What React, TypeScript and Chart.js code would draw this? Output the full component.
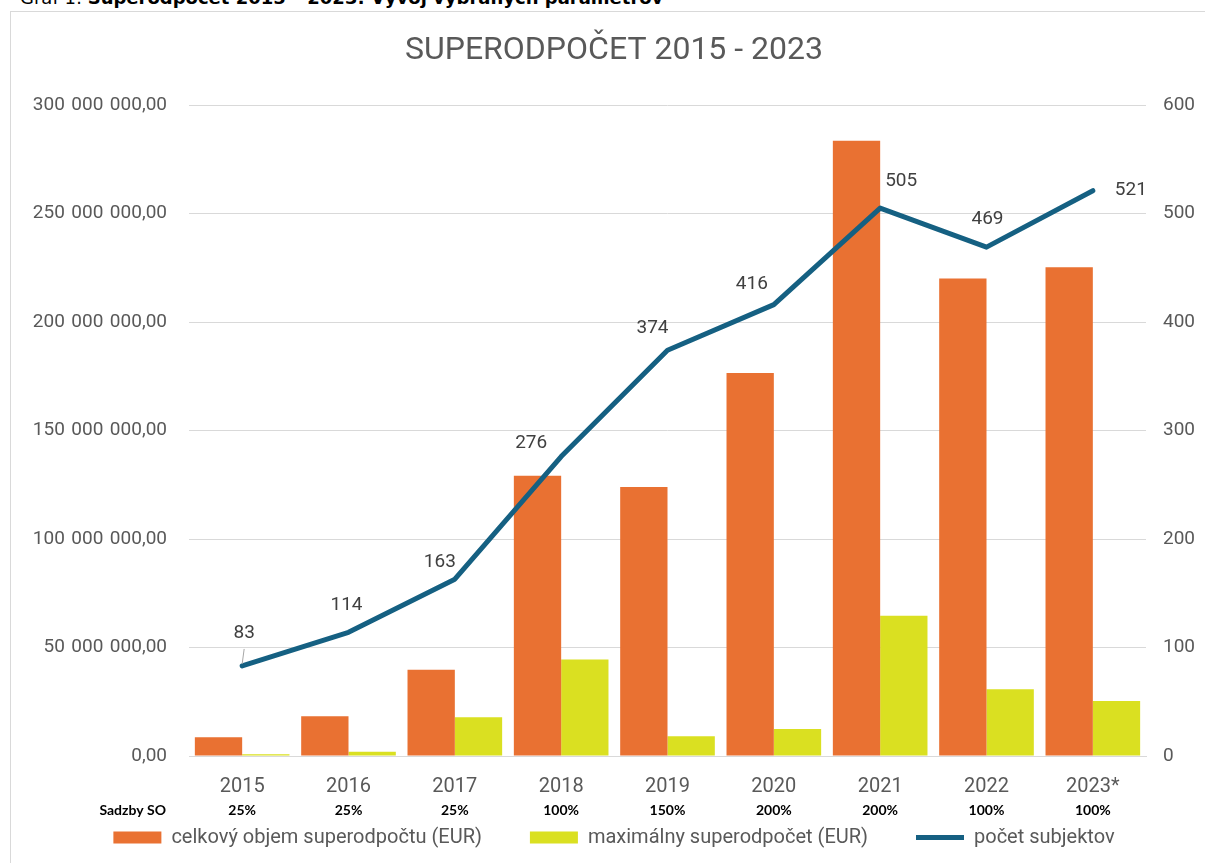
import React, { useEffect, useRef } from 'react';
import { Chart, registerables } from 'chart.js';

Chart.register(...registerables);

// ---- data ----
const years = ['2015', '2016', '2017', '2018', '2019', '2020', '2021', '2022', '2023*'];
const totalVolume = [8.6e6, 18.3e6, 39.7e6, 129.2e6, 124.0e6, 176.5e6, 283.5e6, 220.0e6, 225.2e6];
const maxDeduction = [0.8e6, 2.0e6, 17.8e6, 44.5e6, 9.1e6, 12.5e6, 64.6e6, 30.8e6, 25.4e6];
const subjects = [83, 114, 163, 276, 374, 416, 505, 469, 521];
const rates = ['25%', '25%', '25%', '100%', '150%', '200%', '200%', '100%', '100%'];
const ratesLabel = 'Sadzby SO';
const seriesNames = ['celkový objem superodpočtu (EUR)', 'maximálny superodpočet (EUR)', 'počet subjektov'];
const chartTitle = 'SUPERODPOČET 2015 - 2023';

// label offsets (style) for the line's value labels [dx, dy]
const labelOffsets: [number, number][] = [
  [2, -33], [-2, -27], [-15, -17], [-30, -13], [-15, -22], [-22, -20], [21, -27], [1, -28], [38, 0],
];

// thousands separated by a (three-per-em) space, decimal comma
const fmt = (v: number) =>
  Math.round(v).toString().replace(/\B(?=(\d{3})+(?!\d))/g, '\u2004') + ',00';

const FONT = 'Roboto';
const GREY = '#595959';
const LEGEND_FONT = 20;
const LEGEND_PAD = 48;

const extrasPlugin = {
  id: 'extras',
  afterLayout(chart: any) {
    const lg = chart.legend;
    if (!lg) return;
    const desiredTop = chart.chartArea.bottom + 81.5 - LEGEND_PAD - LEGEND_FONT / 2;
    const shift = desiredTop - lg.top;
    lg.top += shift;
    lg.bottom += shift;
  },
  afterDatasetsDraw(chart: any) {
    const ctx = chart.ctx as CanvasRenderingContext2D;
    const meta = chart.getDatasetMeta(2);
    ctx.save();
    ctx.font = `19px ${FONT}`;
    ctx.fillStyle = '#404040';
    ctx.textAlign = 'center';
    ctx.textBaseline = 'middle';
    meta.data.forEach((pt: any, i: number) => {
      const [dx, dy] = labelOffsets[i];
      const lx = pt.x + dx;
      const ly = pt.y + dy;
      if (i === 0) {
        ctx.strokeStyle = '#a6a6a6';
        ctx.lineWidth = 1;
        ctx.beginPath();
        ctx.moveTo(lx, ly + 16);
        ctx.lineTo(pt.x, pt.y - 2);
        ctx.stroke();
      }
      ctx.fillText(String(subjects[i]), lx, ly);
    });
    const xs = chart.scales.x;
    const y = chart.chartArea.bottom + 54;
    ctx.font = `bold 14px Lato`;
    ctx.fillStyle = '#000000';
    ctx.textAlign = 'right';
    ctx.fillText(ratesLabel, chart.scales.y.right - 23, y);
    ctx.textAlign = 'center';
    rates.forEach((r, i) => ctx.fillText(r, xs.getPixelForValue(i), y));
    ctx.restore();
  },
};

export default function App() {
  const ref = useRef<HTMLCanvasElement>(null);
  useEffect(() => {
    if (!ref.current) return;
    const yFont = { family: FONT, size: 19 };
    const xFont = { family: FONT, size: 20 };
    const chart = new Chart(ref.current, {
      type: 'bar',
      data: {
        labels: years,
        datasets: [
          {
            type: 'bar',
            label: seriesNames[0],
            data: totalVolume,
            backgroundColor: '#E97132',
            borderWidth: 0,
            yAxisID: 'y',
            order: 1,
            categoryPercentage: 0.89,
            barPercentage: 1.0,
          },
          {
            type: 'bar',
            label: seriesNames[1],
            data: maxDeduction,
            backgroundColor: '#DAE021',
            borderWidth: 0,
            yAxisID: 'y',
            order: 2,
            categoryPercentage: 0.89,
            barPercentage: 1.0,
          },
          {
            type: 'line',
            label: seriesNames[2],
            data: subjects,
            borderColor: '#156082',
            backgroundColor: '#156082',
            borderWidth: 5,
            borderCapStyle: 'round',
            borderJoinStyle: 'round',
            pointRadius: 0,
            tension: 0,
            yAxisID: 'y1',
            order: 0,
          } as any,
        ],
      },
      options: {
        responsive: false,
        animation: false,
        layout: { padding: { left: 0, right: 0, top: 0, bottom: 0 } },
        plugins: {
          tooltip: { enabled: false },
          title: {
            display: true,
            text: chartTitle,
            font: { family: FONT, size: 32, weight: 'normal' },
            color: GREY,
            padding: { top: 20, bottom: 34.6 },
          },
          legend: {
            position: 'bottom',
            labels: {
              usePointStyle: true,
              pointStyleWidth: 48,
              boxHeight: 12,
              padding: LEGEND_PAD,
              font: { family: FONT, size: LEGEND_FONT },
              color: GREY,
              sort: (a: any, b: any) => a.datasetIndex - b.datasetIndex,
              generateLabels: (c: any) => {
                const items = (Chart.defaults.plugins.legend.labels as any).generateLabels(c);
                items.forEach((it: any) => {
                  it.pointStyle = it.datasetIndex === 2 ? 'line' : 'rect';
                });
                return items;
              },
            },
          },
        },
        scales: {
          x: {
            grid: { display: false, drawTicks: false },
            border: { display: true, color: '#d9d9d9', width: 1 },
            ticks: { font: xFont, color: GREY, padding: 19 },
            afterFit: (s: any) => {
              s.height = 44;
            },
          },
          y: {
            position: 'left',
            min: 0,
            max: 300e6,
            ticks: { stepSize: 50e6, callback: (v: any) => fmt(Number(v)), font: yFont, color: GREY, padding: 22 },
            grid: { color: '#d9d9d9', drawTicks: false },
            border: { display: false },
            afterFit: (s: any) => {
              s.width = 178;
            },
          },
          y1: {
            position: 'right',
            min: 0,
            max: 600,
            ticks: { stepSize: 100, font: yFont, color: GREY, padding: 17 },
            grid: { display: false, drawTicks: false },
            border: { display: false },
            afterFit: (s: any) => {
              s.width = 71;
            },
          },
        },
      } as any,
      plugins: [extrasPlugin],
    });
    return () => chart.destroy();
  }, []);

  return (
    <div style={{ position: 'absolute', left: 0, top: 0, width: 1205, height: 863, overflow: 'hidden', background: '#fff' }}>
      <div
        style={{
          position: 'absolute',
          left: 20,
          top: -11,
          whiteSpace: 'nowrap',
          fontFamily: '"DejaVu Sans", Verdana, sans-serif',
          fontSize: 18,
          lineHeight: '18px',
          color: '#000',
        }}
      >
        Graf 1: <b>Superodpočet 2015 – 2023: Vývoj vybraných parametrov</b>
      </div>
      <div
        style={{
          position: 'absolute',
          left: 10,
          top: 11,
          width: 1208,
          height: 900,
          border: '1px solid #d9d9d9',
          boxSizing: 'border-box',
        }}
      >
        <canvas ref={ref} width={1206} height={866} style={{ display: 'block' }} />
      </div>
    </div>
  );
}
